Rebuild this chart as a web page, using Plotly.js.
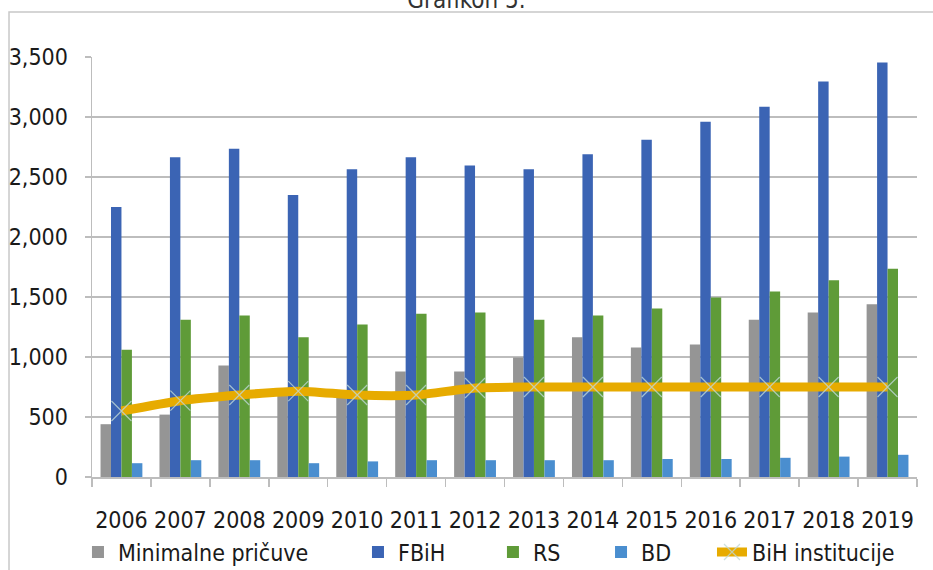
<!DOCTYPE html>
<html>
<head>
<meta charset="utf-8">
<script src="https://cdn.plot.ly/plotly-3.0.1.min.js"></script>
<style>
  html, body { margin: 0; padding: 0; background: #ffffff; }
  #chart { width: 933px; height: 570px; }
</style>
</head>
<body>
<div id="chart"></div>
<script>
const years = ["2006","2007","2008","2009","2010","2011","2012","2013","2014","2015","2016","2017","2018","2019"];
const minimalnePricuve = [440, 520, 930, 700, 690, 880, 880, 995, 1165, 1080, 1105, 1310, 1370, 1440];
const fbih = [2250, 2665, 2735, 2350, 2565, 2665, 2595, 2565, 2690, 2810, 2960, 3085, 3295, 3455];
const rs = [1060, 1310, 1345, 1165, 1270, 1360, 1370, 1310, 1345, 1405, 1495, 1545, 1640, 1735];
const bd = [115, 140, 140, 115, 130, 140, 140, 140, 140, 150, 150, 160, 170, 185];
const bihInstitucije = [550, 636, 683, 715, 683, 683, 742, 750, 750, 750, 750, 750, 750, 750];
const seriesNames = ["Minimalne pričuve", "FBiH", "RS", "BD", "BiH institucije"];
const yTicks = [0, 500, 1000, 1500, 2000, 2500, 3000, 3500];
const yTickText = ["0", "500", "1,000", "1,500", "2,000", "2,500", "3,000", "3,500"];

const FONT = "'DejaVu Sans Condensed', 'Liberation Sans Narrow', sans-serif";

const traces = [
  { type: "bar", name: seriesNames[0], x: years, y: minimalnePricuve, marker: { color: "#959595" }, legend: "legend" },
  { type: "bar", name: seriesNames[1], x: years, y: fbih, marker: { color: "#3B64B4" }, legend: "legend2" },
  { type: "bar", name: seriesNames[2], x: years, y: rs, marker: { color: "#5F9B38" }, legend: "legend3" },
  { type: "bar", name: seriesNames[3], x: years, y: bd, marker: { color: "#4A8ECF" }, legend: "legend4" },
  { type: "scatter", mode: "lines+markers", name: seriesNames[4], x: years, y: bihInstitucije,
    line: { color: "#E7AB00", width: 9, shape: "spline", smoothing: 0.6 },
    marker: { symbol: "x-thin-open", size: 20, color: "rgba(190,215,215,0.8)", line: { color: "rgba(190,215,215,0.8)", width: 1.2 } },
    legend: "legend5" }
];

function leg(xp) {
  return { x: xp, y: -0.1786, xanchor: "left", yanchor: "middle", orientation: "h",
           bgcolor: "rgba(0,0,0,0)", font: { family: FONT, size: 23, color: "#1a1a1a" } };
}

const layout = {
  width: 933, height: 570,
  margin: { l: 92, r: 16, t: 57, b: 93, autoexpand: false },
  paper_bgcolor: "#ffffff", plot_bgcolor: "#ffffff",
  font: { family: FONT, color: "#1a1a1a" },
  title: { text: "Grafikon 5.", x: 0.5, xanchor: "center", xref: "container",
           y: 1, yref: "container", yanchor: "middle",
           font: { family: FONT, size: 24, color: "#333" } },
  barmode: "group", bargap: 0.29, bargroupgap: 0,
  showlegend: true,
  legend: leg(-0.017), legend2: leg(0.3224), legend3: leg(0.486), legend4: leg(0.617), legend5: leg(0.7515),
  xaxis: {
    type: "category", range: [-0.5, years.length - 0.5],
    tickson: "boundaries", ticks: "outside", ticklen: 8, tickcolor: "#BDBDBD", tickwidth: 1.5,
    showline: true, linecolor: "#BDBDBD", linewidth: 1.5, showgrid: false, tickangle: 0, automargin: false,
    tickfont: { family: FONT, size: 23, color: "#1a1a1a" }, ticklabelstandoff: 22
  },
  yaxis: {
    range: [0, 3500], tickvals: yTicks, ticktext: yTickText, ticks: "outside", ticklen: 6,
    tickcolor: "#BDBDBD", tickwidth: 1.5, showline: true, linecolor: "#BDBDBD", linewidth: 1.5,
    gridcolor: "#BDBDBD", gridwidth: 2, zeroline: false, automargin: false,
    tickfont: { family: FONT, size: 23, color: "#1a1a1a" }, ticklabelstandoff: 12
  },
  shapes: [{
    type: "rect", xref: "paper", yref: "paper",
    x0: -0.1006, x1: 1.03, y0: -0.25, y1: 1.107,
    line: { color: "#C8C8C8", width: 1.5 }, fillcolor: "rgba(0,0,0,0)", layer: "below"
  }]
};

Plotly.newPlot("chart", traces, layout, { displayModeBar: false, staticPlot: true });
</script>
</body>
</html>
